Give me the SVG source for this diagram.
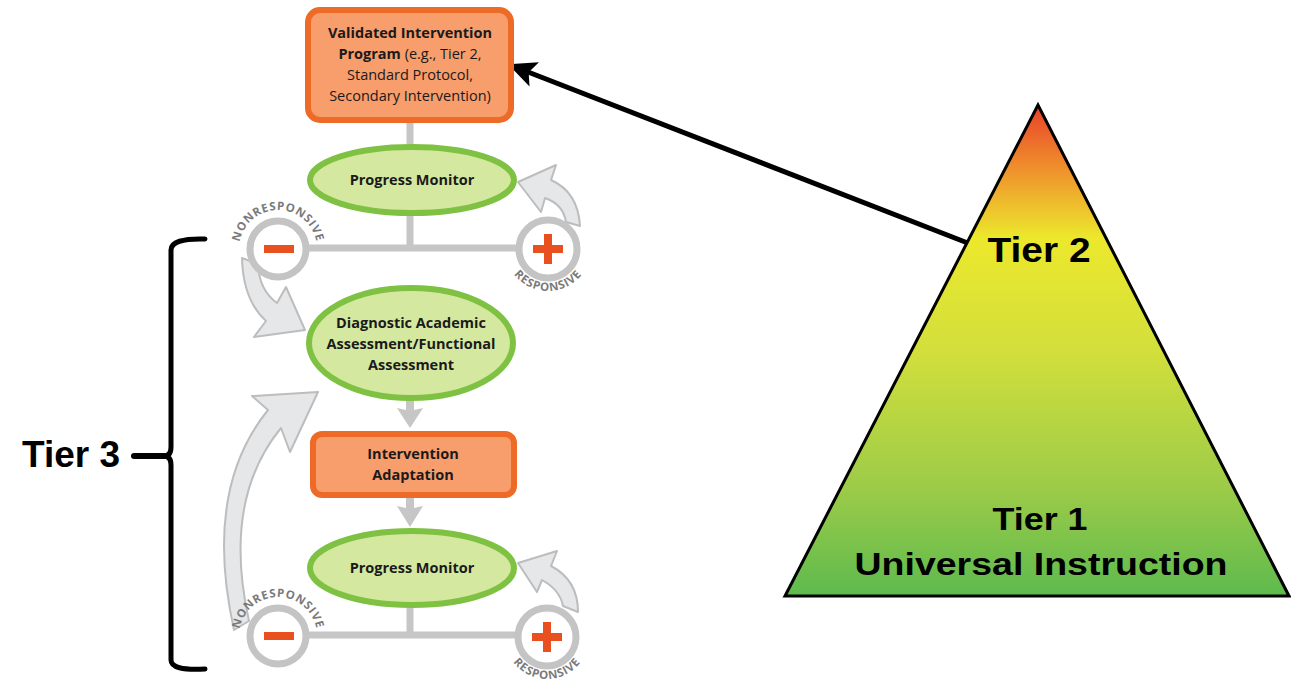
<svg xmlns="http://www.w3.org/2000/svg" width="1291" height="682" viewBox="0 0 1291 682">
<defs>
<linearGradient id="pyr" x1="0" y1="105" x2="0" y2="597" gradientUnits="userSpaceOnUse">
<stop offset="0" stop-color="#e8402a"/>
<stop offset="0.12" stop-color="#ef8a2c"/>
<stop offset="0.27" stop-color="#ece82c"/>
<stop offset="0.5" stop-color="#d2df3c"/>
<stop offset="0.78" stop-color="#9ccb48"/>
<stop offset="1" stop-color="#5dba4e"/>
</linearGradient>
<marker id="blk" markerUnits="userSpaceOnUse" markerWidth="30" markerHeight="26" refX="26" refY="13" orient="auto">
<path d="M0,0 L28,13 L0,26 L6,13 Z" fill="#000"/>
</marker>
<path id="arcTop1" d="M239,249 A39,39 0 0 1 317,249"/>
<path id="arcBot1" d="M505,248 A43,43 0 0 0 591,248"/>
<path id="arcTop2" d="M239,636 A39,39 0 0 1 317,636"/>
<path id="arcBot2" d="M505,637 A42,42 0 0 0 589,637"/>
</defs>
<style>
.box{fill:#f89d6c;stroke:#ee6a27;stroke-width:6}
.ell{fill:#d5e8a0;stroke:#7fc243;stroke-width:6}
.t{font-family:"Open Sans","Noto Sans",sans-serif;font-size:14.5px;fill:#1a1a1a;text-anchor:middle}
.b{font-weight:bold}
.gl{stroke:#c6c6c6;stroke-width:7;fill:none}
.circ{fill:#fff;stroke:#c4c4c4;stroke-width:7}
.sign{fill:#e8511f}
.arc{font-family:"Open Sans","Noto Sans",sans-serif;font-size:11.5px;font-weight:bold;fill:#7a7a7a;letter-spacing:0.8px}
.garr{fill:#e6e7e9;stroke:#bdbdbd;stroke-width:2;stroke-linejoin:round}
.big{font-family:"Liberation Sans",Arial,sans-serif;font-weight:bold;fill:#000;text-anchor:middle}
</style>

<g id="connectors">
<line class="gl" x1="410" y1="122" x2="410" y2="148"/>
<line class="gl" x1="410" y1="212" x2="410" y2="248"/>
<line class="gl" x1="305" y1="248" x2="519" y2="248"/>
<line class="gl" x1="410" y1="604" x2="410" y2="635"/>
<line class="gl" x1="305" y1="635" x2="518" y2="635"/>
<path d="M406,399 L414,399 L414,410 L423,408 L410,428 L397,408 L406,410 Z" fill="#c6c6c6"/>
<path d="M406,496 L414,496 L414,508 L423,506 L410,527 L397,506 L406,508 Z" fill="#c6c6c6"/>
<path class="garr" d="M518,182 L556,165 L551,180 Q578,192 580,226 L566,222 Q563,204 545,198 L541,212 Z"/>
<path class="garr" d="M305,330 L254,337 L266,321 Q243,300 242,258 L258,264 Q259,290 277,303 L286,287 Z"/>
<path class="garr" d="M318,392 L252,396 L268,410 Q203,490 234,630 L249,621 Q222,500 281,428 L290,452 Z"/>
<path class="garr" d="M518,563 L557,551 L551,566 Q578,580 578,612 L563,606 Q560,590 542,580 L537,592 Z"/>
<line x1="978" y1="247" x2="510" y2="65" stroke="#000" stroke-width="5" marker-end="url(#blk)"/>
<line x1="1043" y1="480" x2="1043" y2="285" stroke="#000" stroke-width="6"/>
<path d="M1031,298 L1043,277 L1055,298 Z" fill="#000"/>
</g>

<g id="node-validated">
<rect class="box" x="308" y="10" width="203" height="110" rx="12"/>
<text class="t b" x="410" y="38">Validated Intervention</text>
<text class="t" x="410" y="59"><tspan class="b">Program</tspan> (e.g., Tier 2,</text>
<text class="t" x="410" y="80">Standard Protocol,</text>
<text class="t" x="410" y="101">Secondary Intervention)</text>
</g>

<g id="node-progress1">
<ellipse class="ell" cx="412" cy="180" rx="102" ry="33"/>
<text class="t b" x="412" y="185">Progress Monitor</text>
</g>

<g id="node-minus1">
<circle class="circ" cx="278" cy="249" r="28"/>
<rect class="sign" x="264" y="245" width="30" height="8"/>
<text class="arc"><textPath href="#arcTop1" startOffset="50%" text-anchor="middle">NONRESPONSIVE</textPath></text>
</g>

<g id="node-plus1">
<circle class="circ" cx="548" cy="249" r="29"/>
<rect class="sign" x="533" y="245" width="30" height="8"/>
<rect class="sign" x="544" y="234" width="8" height="30"/>
<text class="arc"><textPath href="#arcBot1" startOffset="50%" text-anchor="middle">RESPONSIVE</textPath></text>
</g>

<g id="node-diagnostic">
<ellipse class="ell" cx="411" cy="343" rx="102" ry="55"/>
<text class="t b" x="411" y="328">Diagnostic Academic</text>
<text class="t b" x="411" y="349">Assessment/Functional</text>
<text class="t b" x="411" y="370">Assessment</text>
</g>

<g id="node-adaptation">
<rect class="box" x="313" y="434" width="201" height="61" rx="9"/>
<text class="t b" x="413" y="459">Intervention</text>
<text class="t b" x="413" y="480">Adaptation</text>
</g>

<g id="node-progress2">
<ellipse class="ell" cx="412" cy="568" rx="102" ry="37"/>
<text class="t b" x="412" y="573">Progress Monitor</text>
</g>

<g id="node-minus2">
<circle class="circ" cx="278" cy="636" r="28"/>
<rect class="sign" x="264" y="632" width="30" height="8"/>
<text class="arc"><textPath href="#arcTop2" startOffset="50%" text-anchor="middle">NONRESPONSIVE</textPath></text>
</g>

<g id="node-plus2">
<circle class="circ" cx="547" cy="637" r="29"/>
<rect class="sign" x="532" y="633" width="30" height="8"/>
<rect class="sign" x="543" y="622" width="8" height="30"/>
<text class="arc"><textPath href="#arcBot2" startOffset="50%" text-anchor="middle">RESPONSIVE</textPath></text>
</g>

<g id="node-tier3">
<path d="M205,239 Q171,238 171,250 L171,447 Q171,456 164,456 Q171,456 171,465 L171,660 Q171,671 205,669" fill="none" stroke="#000" stroke-width="5" stroke-linecap="round" stroke-linejoin="round"/>
<line x1="134" y1="456" x2="164" y2="456" stroke="#000" stroke-width="6" stroke-linecap="round"/>
<text class="big" x="71" y="467" font-size="36" textLength="98" lengthAdjust="spacingAndGlyphs">Tier 3</text>
</g>

<g id="node-pyramid">
<polygon points="1038,105 785,596 1289,596" fill="url(#pyr)" stroke="#000" stroke-width="3" stroke-linejoin="miter"/>
<text class="big" x="1039" y="262" font-size="35" textLength="103" lengthAdjust="spacingAndGlyphs">Tier 2</text>
<text class="big" x="1040" y="530" font-size="32" textLength="95" lengthAdjust="spacingAndGlyphs">Tier 1</text>
<text class="big" x="1041" y="575" font-size="32" textLength="373" lengthAdjust="spacingAndGlyphs">Universal Instruction</text>
</g>
</svg>
